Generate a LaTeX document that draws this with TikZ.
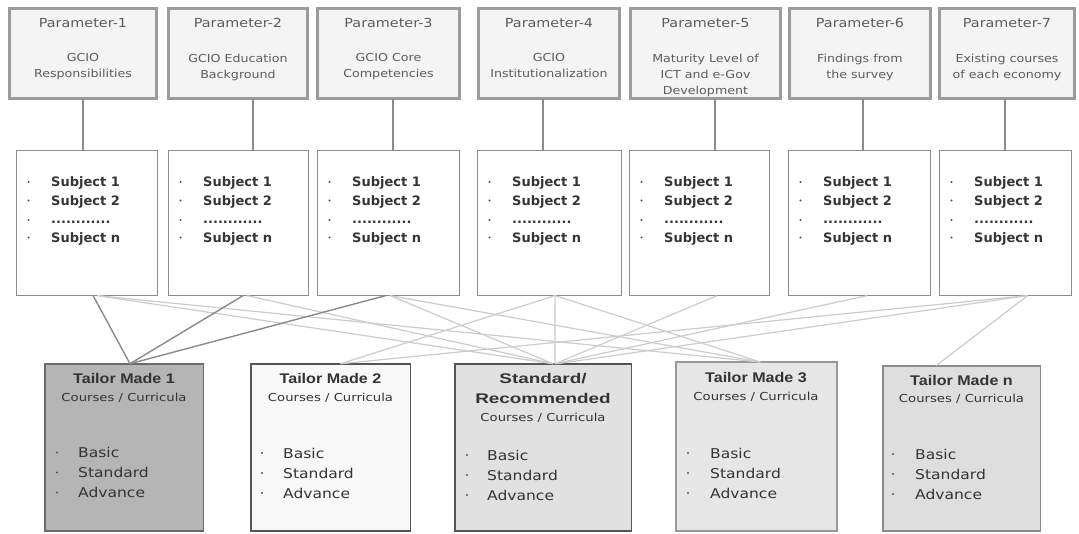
\documentclass[tikz,border=0pt]{standalone}
\usepackage{fontspec}
\setmainfont{DejaVu Sans}
\newfontfamily\widesans[FakeStretch=1.15]{DejaVu Sans}
\newfontfamily\widersans[FakeStretch=1.2]{DejaVu Sans}
\newfontfamily\titlesans[FakeStretch=1.15]{Liberation Sans}
\newfontfamily\stdtitlesans[FakeStretch=1.35]{Liberation Sans}
\usetikzlibrary{calc}

\definecolor{pframe}{HTML}{9C9C9C}
\definecolor{pfill}{HTML}{F4F4F4}
\definecolor{ptext}{HTML}{5C5C5C}
\definecolor{sframe}{HTML}{8C8C8C}
\definecolor{stext}{HTML}{353535}
\definecolor{ctext}{HTML}{333333}
\definecolor{bullet}{HTML}{555555}
\definecolor{linkmid}{HTML}{8C8C8C}
\definecolor{linkdark}{HTML}{8A8A8A}
\definecolor{linklight}{HTML}{CCCCCC}
\definecolor{bAfill}{HTML}{B5B5B5}
\definecolor{bAframe}{HTML}{6A6A6A}
\definecolor{bBfill}{HTML}{F8F8F8}
\definecolor{bBframe}{HTML}{555555}
\definecolor{bSfill}{HTML}{E1E1E1}
\definecolor{bSframe}{HTML}{555555}
\definecolor{bCfill}{HTML}{E6E6E6}
\definecolor{bCframe}{HTML}{999999}
\definecolor{bNfill}{HTML}{DEDEDE}
\definecolor{bNframe}{HTML}{8A8A8A}

\begin{document}
\begin{tikzpicture}[x=1pt,y=-1pt,
  pbox/.style={draw=pframe, line width=3pt, fill=pfill, inner sep=0pt, outer sep=0pt,
    anchor=north west, minimum height=90pt},
  sbox/.style={draw=sframe, line width=1.2pt, fill=white, inner sep=0pt, outer sep=0pt,
    anchor=north west, minimum height=145pt},
  cbox/.style={line width=1.5pt, inner sep=0pt, outer sep=0pt, anchor=north west},
  ptitle/.style={text=ptext, inner sep=0pt, anchor=base,
    font=\widesans\fontsize{12.5}{15}\selectfont},
  pbody/.style={text=ptext, inner sep=0pt, align=center, anchor=north,
    font=\widesans\fontsize{11}{16}\selectfont},
  subj/.style={text=stext, inner sep=0pt, anchor=base west,
    font=\bfseries\fontsize{13}{15}\selectfont},
  sdot/.style={circle, fill=bullet, inner sep=0pt, minimum size=2.4pt},
  ctitle/.style={text=ctext, inner sep=0pt, anchor=base,
    font=\titlesans\bfseries\fontsize{14}{16}\selectfont},
  cstdtitle/.style={text=ctext, inner sep=0pt, anchor=base,
    font=\stdtitlesans\bfseries\fontsize{14}{16}\selectfont},
  csub/.style={text=ctext, inner sep=0pt, anchor=base,
    font=\widersans\fontsize{11}{13}\selectfont},
  citem/.style={text=ctext, inner sep=0pt, anchor=base west,
    font=\widesans\fontsize{13.5}{15}\selectfont},
  uplink/.style={draw=linkmid, line width=1.2pt},
  darklink/.style={draw=linkdark, line width=1.4pt},
  lightlink/.style={draw=linklight, line width=1.2pt},
]
\useasboundingbox (0,0) rectangle (1079,533);
\fill[white] (0,0) rectangle (1079,533);

% ---------- parameter boxes ----------
\node[pbox, minimum width=147pt] (P1) at (9.5,8.5) {};
\node[pbox, minimum width=139pt] (P2) at (168.5,8.5) {};
\node[pbox, minimum width=142pt] (P3) at (317.5,8.5) {};
\node[pbox, minimum width=141pt] (P4) at (478.5,8.5) {};
\node[pbox, minimum width=150pt] (P5) at (630.5,8.5) {};
\node[pbox, minimum width=141pt] (P6) at (789.5,8.5) {};
\node[pbox, minimum width=135pt] (P7) at (939.5,8.5) {};

\foreach \p/\t/\b in {
  P1/Parameter-1/{GCIO\\Responsibilities},
  P2/Parameter-2/{GCIO Education\\Background},
  P3/Parameter-3/{GCIO Core\\Competencies},
  P4/Parameter-4/{GCIO\\Institutionalization},
  P5/Parameter-5/{Maturity Level of\\ICT and e-Gov\\Development},
  P6/Parameter-6/{Findings from\\the survey},
  P7/Parameter-7/{Existing courses\\of each economy}} {
  \node[ptitle] (\p-t) at ($(\p.north)+(0,18.5)$) {\t};
  \node[pbody] (\p-b) at ($(\p.north)+(0,45)$) {\b};
}

% ---------- subject boxes ----------
\node[sbox, minimum width=141pt] (S1) at (16.6,150.6) {};
\node[sbox, minimum width=140pt] (S2) at (168.6,150.6) {};
\node[sbox, minimum width=142pt] (S3) at (317.6,150.6) {};
\node[sbox, minimum width=144pt] (S4) at (477.6,150.6) {};
\node[sbox, minimum width=140pt] (S5) at (629.6,150.6) {};
\node[sbox, minimum width=142pt] (S6) at (788.6,150.6) {};
\node[sbox, minimum width=132pt] (S7) at (939.6,150.6) {};

\foreach \s/\xl in {S1/16, S2/168, S3/317, S4/477, S5/629, S6/788, S7/939} {
  \node[subj] (\s-1) at (\xl+35,186.7) {Subject 1};
  \node[subj] (\s-2) at (\xl+35,205.2) {Subject 2};
  \node[subj] (\s-3) at (\xl+35,223.7) {............};
  \node[subj] (\s-n) at (\xl+35,242.2) {Subject n};
  \foreach \k/\yy in {1/182, 2/200.5, 3/220, 4/237.5}
    \node[sdot] (\s-d\k) at (\xl+12.5,\yy) {};
}

% parameter -> subject links
\draw[uplink] (P1.south) -- (P1.south |- S1.north);
\draw[uplink] ([xshift=15pt]P2.south) -- ([xshift=15pt]P2.south |- S2.north);
\draw[uplink] ([xshift=4.5pt]P3.south) -- ([xshift=4.5pt]P3.south |- S3.north);
\draw[uplink] ([xshift=-6pt]P4.south) -- ([xshift=-6pt]P4.south |- S4.north);
\draw[uplink] ([xshift=9.5pt]P5.south) -- ([xshift=9.5pt]P5.south |- S5.north);
\draw[uplink] ([xshift=3pt]P6.south) -- ([xshift=3pt]P6.south |- S6.north);
\draw[uplink] ([xshift=-2pt]P7.south) -- ([xshift=-2pt]P7.south |- S7.north);

% ---------- course boxes ----------
\node[cbox, draw=bAframe, fill=bAfill, minimum width=158.5pt, minimum height=167pt] (BM1) at (44.75,363.75) {};
\node[cbox, draw=bBframe, fill=bBfill, minimum width=159.5pt, minimum height=167pt] (BM2) at (250.75,363.75) {};
\node[cbox, draw=bSframe, fill=bSfill, minimum width=176.5pt, minimum height=167pt] (BS) at (454.75,363.75) {};
\node[cbox, draw=bCframe, fill=bCfill, minimum width=160.5pt, minimum height=169pt, line width=2pt] (BM3) at (676,362) {};
\node[cbox, draw=bNframe, fill=bNfill, minimum width=157.5pt, minimum height=165pt] (BMn) at (882.75,365.75) {};

% subject -> course links (light)
\draw[lightlink] ([xshift=10pt]S1.south) -- ([xshift=10pt]BS.north);
\draw[lightlink] ([xshift=10pt]S1.south) -- ([xshift=4pt]BM3.north);
\draw[lightlink] ([xshift=8.5pt]S2.south) -- ([xshift=10pt]BS.north);
\draw[lightlink] ([xshift=1.5pt]S3.south) -- ([xshift=10pt]BS.north);
\draw[lightlink] ([xshift=1.5pt]S3.south) -- ([xshift=4pt]BM3.north);
\draw[lightlink] ([xshift=5.5pt]S4.south) -- ([xshift=10pt]BM2.north);
\draw[lightlink] ([xshift=5.5pt]S4.south) -- ([xshift=12pt]BS.north);
\draw[lightlink] ([xshift=5.5pt]S4.south) -- ([xshift=4pt]BM3.north);
\draw[lightlink] ([xshift=17.5pt]S5.south) -- ([xshift=12pt]BS.north);
\draw[lightlink] ([xshift=7.5pt]S6.south) -- ([xshift=12pt]BS.north);
\draw[lightlink] ([xshift=22pt]S7.south) -- ([xshift=14pt]BS.north);
\draw[lightlink] ([xshift=22pt]S7.south) -- ([xshift=10pt]BM2.north);
\draw[lightlink] ([xshift=22pt]S7.south) -- ([xshift=-25.5pt]BMn.north);
% subject -> course links (dark)
\draw[darklink] ([xshift=6pt]S1.south) -- ([xshift=6pt]BM1.north);
\draw[darklink] ([xshift=4.5pt]S2.south) -- ([xshift=6pt]BM1.north);
\draw[darklink] ([xshift=-3pt]S3.south) -- ([xshift=6pt]BM1.north);

% course box texts
\node[ctitle] (BM1-t) at (124,383.5) {Tailor Made 1};
\node[csub] (BM1-c) at (124,401) {Courses / Curricula};
\node[ctitle] (BM2-t) at (330.5,383.5) {Tailor Made 2};
\node[csub] (BM2-c) at (330.5,401) {Courses / Curricula};
\node[cstdtitle] (BS-t1) at (543,383.5) {Standard/};
\node[cstdtitle] (BS-t2) at (543,403) {Recommended};
\node[csub] (BS-c) at (543,421) {Courses / Curricula};
\node[ctitle] (BM3-t) at (756,382) {Tailor Made 3};
\node[csub] (BM3-c) at (756,400) {Courses / Curricula};
\node[ctitle] (BMn-t) at (961.5,385) {Tailor Made n};
\node[csub] (BMn-c) at (961.5,402) {Courses / Curricula};

\foreach \b/\tx/\bx/\yb in {BM1/78/57/457.5, BM2/283/262/458, BS/487/467/460,
                            BM3/710/688/458, BMn/915/893/459} {
  \foreach \k/\w in {0/Basic, 1/Standard, 2/Advance} {
    \node[citem] (\b-i\k) at (\tx,\yb+20*\k) {\w};
    \node[sdot] (\b-d\k) at (\bx,\yb+20*\k-5) {};
  }
}
\end{tikzpicture}
\end{document}
